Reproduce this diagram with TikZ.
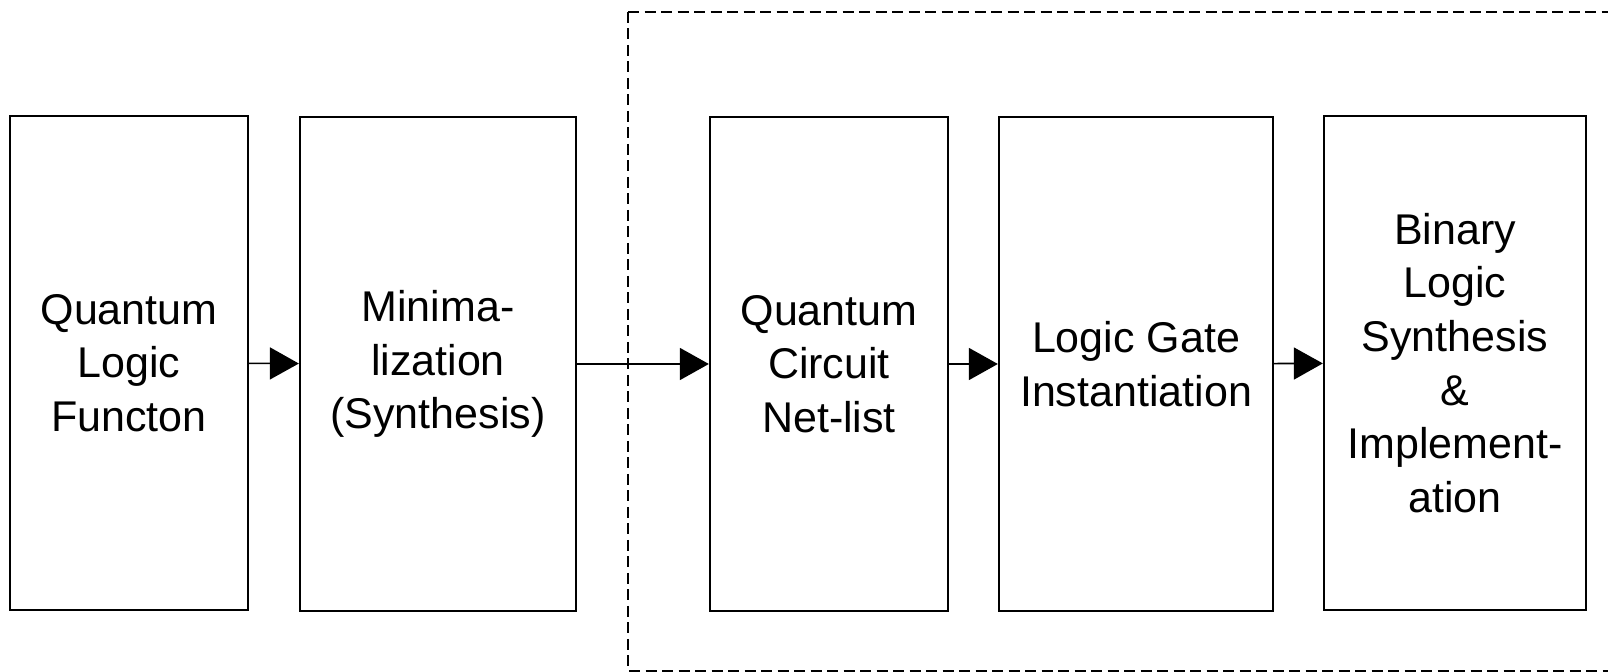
\documentclass[tikz,border=0pt]{standalone}
\usepackage{fontspec}
\setmainfont{Liberation Sans}
\usetikzlibrary{arrows.meta}
\tikzset{
    block/.style={draw, line width=1.15pt, minimum height=247pt, align=center,
                  inner sep=0pt, font=\fontsize{21.5}{26.8}\selectfont},
    flow/.style={line width=0.8pt, -{Triangle[length=14.5pt,width=16pt]}},
    frame/.style={line width=1.1pt, dash pattern=on 5.5pt off 2.75pt},
  }
\begin{document}
\begin{tikzpicture}[x=0.5pt,y=-0.5pt]
    \useasboundingbox (0,0) rectangle (1608,672);

    %dashed frame round the quantum circuit stages
    \draw[frame] (628,12) -- (1620,12) (628,12) -- (628,671) -- (1620,671);

    %the five stages
    \node[block, minimum width=119pt] (func) at (129,363) {Quantum\\Logic\\Functon};
    \node[block, minimum width=138pt] (mini) at (438,364) {Minima-\\lization\\(Synthesis)};
    \node[block, minimum width=119pt] (netl) at (829,364) {Quantum\\Circuit\\Net-list};
    \node[block, minimum width=137pt] (gate) at (1136,364) {Logic Gate\\Instantiation};
    \node[block, minimum width=131pt] (impl) at (1455,363) {Binary\\Logic\\Synthesis\\\&\\Implement-\\ation};

    %connectors
    \draw[flow] (func) -- (mini);
    \draw[flow] (mini) -- (netl);
    \draw[flow] (netl) -- (gate);
    \draw[flow] (gate) -- (impl);
\end{tikzpicture}
\end{document}
